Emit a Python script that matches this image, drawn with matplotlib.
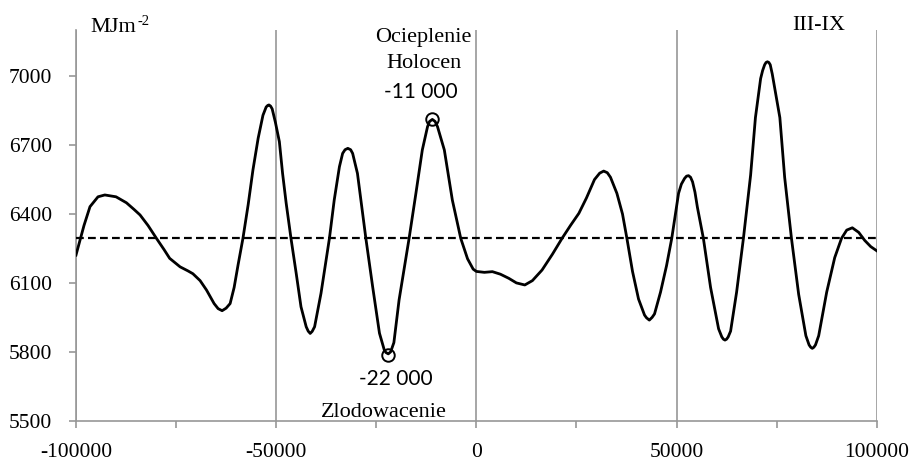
import matplotlib.pyplot as plt
from matplotlib.ticker import MultipleLocator

# ---- data ----
years = [-100000, -98000, -96500, -94500, -92800, -90000, -87400, -85500, -84000,
         -82000, -79900, -78000, -76600, -74000, -72000, -70800, -69000, -67400,
         -65500, -64500, -63500, -62500, -61500, -60500, -59500, -58300, -57000,
         -55800, -54500, -53300, -52500, -52100, -51800, -51400, -51000, -50200,
         -49200, -48400, -47500, -46300, -45000, -43800, -42500, -42000, -41500,
         -41000, -40400, -38800, -36700, -35500, -34200, -33400, -32800, -32100,
         -31400, -30900, -29700, -27600, -25900, -24200, -23000, -22600, -22000,
         -21400, -20600, -19300, -16800, -15100, -13500, -12200, -11700, -11000,
         -10300, -9700, -8000, -6000, -3900, -2200, -800, 0, 2000, 4000, 6000,
         8100, 10000, 12100, 14000, 16400, 19000, 21400, 23500, 25600, 27500,
         29500, 30800, 31800, 32700, 33500, 35100, 36500, 37600, 39000, 40500,
         42000, 42500, 43200, 43900, 44500, 46000, 47500, 48800, 50500, 51200,
         52000, 52500, 53000, 53500, 54000, 54600, 55200, 56700, 58500, 60500,
         61300, 61700, 62100, 62500, 62900, 63500, 65000, 66700, 68500, 69700,
         71000, 71500, 72000, 72350, 72700, 73050, 73400, 73900, 74400, 75800,
         77000, 78700, 80500, 82300, 83100, 83500, 83900, 84300, 84700, 85500,
         87500, 89500, 91200, 92500, 93900, 95500, 97000, 98500, 100000]
insolation = [6221, 6350, 6432, 6475, 6483, 6475, 6449, 6420, 6396,
              6350, 6294, 6245, 6207, 6170, 6152, 6140, 6110, 6069,
              6010, 5988, 5979, 5990, 6010, 6080, 6180, 6294, 6440,
              6592, 6730, 6830, 6866, 6873, 6875, 6870, 6858, 6800,
              6715, 6577, 6447, 6294, 6142, 5996, 5909, 5890, 5880,
              5889, 5909, 6055, 6294, 6461, 6606, 6664, 6680, 6686,
              6680, 6664, 6577, 6294, 6083, 5881, 5808, 5797, 5791,
              5800, 5840, 6026, 6294, 6490, 6679, 6780, 6803, 6812,
              6803, 6780, 6679, 6461, 6294, 6205, 6160, 6150, 6146, 6149, 6138,
              6120, 6100, 6091, 6110, 6156, 6225, 6294, 6350, 6403, 6470,
              6550, 6578, 6587, 6580, 6560, 6490, 6400, 6294, 6150, 6030,
              5960, 5948, 5938, 5950, 5965, 6060, 6175, 6294, 6490, 6530,
              6555, 6565, 6567, 6560, 6540, 6495, 6430, 6294, 6080, 5900,
              5865, 5855, 5851, 5855, 5865, 5890, 6060, 6294, 6570, 6820,
              6990, 7025, 7050, 7060, 7063, 7060, 7050, 7010, 6960, 6820,
              6560, 6294, 6050, 5870, 5830, 5820, 5815, 5820, 5830, 5870,
              6060, 6210, 6294, 6330, 6340, 6320, 6285, 6258, 6240]

mean_level = 6295
mark_years = [-22000, -11000]
mark_vals = [5788, 6812]

plt.rcParams['font.family'] = ['Liberation Serif', 'DejaVu Serif']
plt.rcParams['axes.unicode_minus'] = False

fig = plt.figure(figsize=(9.11, 4.65), dpi=100)
ax = fig.add_axes([0.0834, 0.0953, 0.8790, 0.8395])

grey = '#979797'

ax.plot(years, insolation, color='black', lw=2, solid_joinstyle='round', zorder=3)
ax.axhline(mean_level, color='black', lw=1.6, dashes=(3.5, 1.9), zorder=3)
ax.plot(mark_years, mark_vals, 'o', ms=9, mfc='none', mec='black', mew=1.4, zorder=4)

ax.set_xlim(-100000, 100000)
ax.set_ylim(5500, 7200)
ax.xaxis.set_major_locator(MultipleLocator(50000))
ax.xaxis.set_minor_locator(MultipleLocator(25000))
ax.set_yticks([5500, 5800, 6100, 6400, 6700, 7000])

ax.grid(axis='x', which='major', color=grey, lw=1.2)
ax.set_axisbelow(True)
for s in ['top', 'right']:
    ax.spines[s].set_visible(False)
for s in ['left', 'bottom']:
    ax.spines[s].set_color(grey)
    ax.spines[s].set_linewidth(1.2)

ax.tick_params(axis='both', which='both', color=grey, width=1.2, labelsize=15.5)
ax.tick_params(axis='y', length=5, pad=12)
ax.tick_params(axis='x', which='major', length=5, pad=11)
ax.tick_params(axis='x', which='minor', length=5)

# annotations
ax.text(-96300, 7192, 'MJm', fontsize=16, ha='left', va='baseline')
ax.text(-84700, 7222, '-2', fontsize=10.5, ha='left', va='baseline')
ax.text(85400, 7201, 'III-IX', fontsize=16, ha='center', va='baseline')
ax.text(-13300, 7149, 'Ocieplenie', fontsize=16, ha='center', va='baseline')
ax.text(-13100, 7034, 'Holocen', fontsize=16, ha='center', va='baseline')
ax.text(-13800, 6904, '-11 000', fontsize=15, family=['Lato', 'DejaVu Sans'],
        ha='center', va='baseline')
ax.text(-20000, 5655, '-22 000', fontsize=15, family=['Lato', 'DejaVu Sans'],
        ha='center', va='baseline')
ax.text(-23100, 5517, 'Zlodowacenie', fontsize=16, ha='center', va='baseline')

fig.savefig('out.png', dpi=100)
